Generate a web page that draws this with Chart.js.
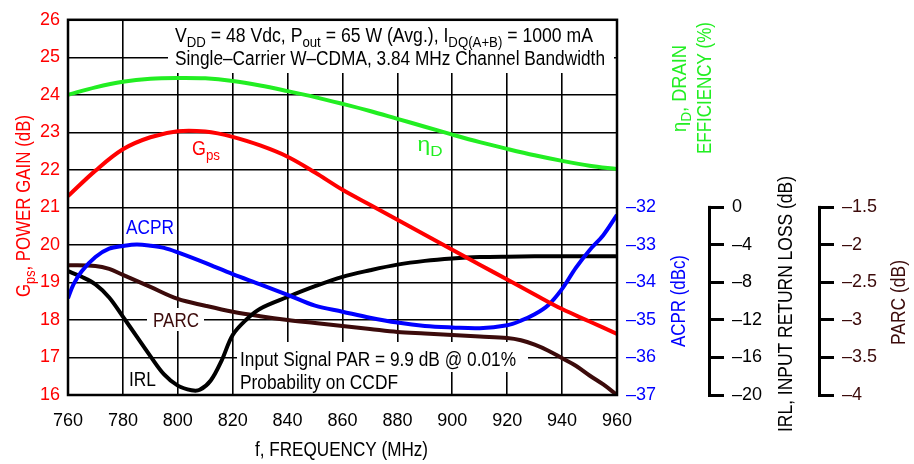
<!DOCTYPE html>
<html>
<head>
<meta charset="utf-8">
<script src="https://cdn.jsdelivr.net/npm/chart.js@4.4.1/dist/chart.umd.min.js"></script>
<style>
  html, body { margin: 0; padding: 0; background: #fff; }
  #wrap { width: 914px; height: 464px; }
</style>
</head>
<body>
<div id="wrap"><canvas id="rfChart" width="914" height="464"></canvas></div>
<script>
// Frequency sweep (MHz) shared by gain and efficiency
const freqs = [760, 770, 780, 790, 800, 810, 820, 830, 840, 850, 860, 870, 880, 890, 900, 910, 920, 930, 940, 950, 960];
const gainDb = [21.3, 21.98, 22.55, 22.87, 23.03, 23.02, 22.88, 22.65, 22.35, 21.93, 21.47, 21.07, 20.67, 20.27, 19.87, 19.47, 19.08, 18.68, 18.29, 17.96, 17.63];
const effPct = [35.0, 36.0, 36.75, 37.15, 37.25, 37.2, 36.85, 36.25, 35.5, 34.7, 33.8, 32.85, 31.8, 30.75, 29.7, 28.7, 27.8, 26.95, 26.2, 25.55, 25.1];

const acprFreq = [760, 762, 765, 770, 775, 780, 785, 790, 795, 800, 810, 820, 830, 840, 850, 860, 870, 880, 890, 900, 910, 920, 925, 930, 935, 940, 945, 950, 955, 960];
const acprDbc = [-34.42, -34.05, -33.7, -33.32, -33.1, -33.03, -32.99, -33.02, -33.08, -33.2, -33.48, -33.78, -34.05, -34.33, -34.62, -34.78, -34.94, -35.07, -35.16, -35.2, -35.22, -35.14, -35.02, -34.85, -34.6, -34.17, -33.61, -33.14, -32.74, -32.2];

const irlFreq = [760, 765, 770, 775, 780, 785, 790, 795, 800, 805, 808, 812, 816, 820, 825, 830, 840, 850, 860, 870, 880, 890, 900, 910, 920, 940, 960];
const irlDb = [-6.8, -7.4, -8.2, -9.6, -11.65, -13.75, -15.85, -17.8, -19.0, -19.5, -19.45, -18.45, -16.3, -13.6, -11.95, -10.8, -9.55, -8.4, -7.4, -6.7, -6.1, -5.7, -5.45, -5.3, -5.25, -5.2, -5.2];

const parcFreq = [760, 770, 775, 780, 790, 800, 810, 820, 830, 840, 850, 860, 870, 880, 890, 900, 910, 920, 925, 930, 935, 940, 945, 950, 955, 960];
const parcDb = [-2.27, -2.28, -2.32, -2.40, -2.56, -2.72, -2.81, -2.89, -2.95, -3.0, -3.04, -3.08, -3.12, -3.16, -3.18, -3.2, -3.22, -3.24, -3.27, -3.33, -3.41, -3.51, -3.61, -3.74, -3.86, -4.0];

// Visible tick ranges on the partial axes
const effTickMin = 25;
const acprTickMax = -32;
const irlTickMax = 0;
const parcTickMax = -1.5;

const RED = '#ff0000', GREEN = '#22ee22', BLUE = '#0000ff', BROWN = '#3c0b0b', BLACK = '#000000';
const FAMILY = "'Liberation Sans', Arial, sans-serif";

function pts(xs, ys) {
    return xs.map((x, i) => ({ x: x, y: ys[i] }));
}

function dash(v) {
    return (v < 0 ? '\u2013' : '') + Math.abs(v);
}

function series(label, xs, ys, color, axis) {
    return {
        label: label,
        data: pts(xs, ys),
        borderColor: color,
        borderWidth: 4,
        pointRadius: 0,
        tension: 0.35,
        yAxisID: axis,
        fill: false
    };
}

// Draw text made of normal and subscript parts, squeezed to a given width.
// (cx, cy) is the centre of the capital letters.
function richText(ctx, parts, cx, cy, width, size, color, rotated) {
    ctx.save();
    ctx.translate(cx, cy);
    if (rotated) ctx.rotate(-Math.PI / 2);
    let w = 0;
    parts.forEach(p => {
        ctx.font = (p[1] ? size * 0.75 : size) + 'px ' + FAMILY;
        w += ctx.measureText(p[0]).width;
    });
    ctx.scale(width / w, 1);
    ctx.fillStyle = color;
    ctx.textBaseline = 'alphabetic';
    ctx.textAlign = 'left';
    let x = -w / 2;
    const base = size * 0.36;
    parts.forEach(p => {
        ctx.font = (p[1] ? size * 0.75 : size) + 'px ' + FAMILY;
        ctx.fillText(p[0], x, base + (p[1] ? size * 0.28 : 0));
        x += ctx.measureText(p[0]).width;
    });
    ctx.restore();
}

function whiteBox(ctx, x1, y1, x2, y2) {
    ctx.save();
    ctx.fillStyle = '#ffffff';
    ctx.fillRect(x1, y1, x2 - x1, y2 - y1);
    ctx.restore();
}

const annotations = {
    id: 'annotations',
    beforeDatasetsDraw(chart) {
        const ctx = chart.ctx;
        // boxes behind text
        whiteBox(ctx, 168, 16, 614, 73);
        whiteBox(ctx, 147, 308, 204, 331);
        whiteBox(ctx, 237, 342, 528, 372);
        whiteBox(ctx, 237, 371, 402, 394);

        richText(ctx, [['V', 0], ['DD', 1], [' = 48 Vdc, P', 0], ['out', 1], [' = 65 W (Avg.), I', 0], ['DQ(A+B)', 1], [' = 1000 mA', 0]],
            384, 35, 418, 19.5, BLACK);
        richText(ctx, [['Single\u2013Carrier W\u2013CDMA, 3.84 MHz Channel Bandwidth', 0]], 390, 58, 430, 19.5, BLACK);

        richText(ctx, [['G', 0], ['ps', 1]], 206, 148, 28, 19.5, RED);
        richText(ctx, [['\u03b7', 0], ['D', 1]], 430, 144, 25, 19.5, GREEN);
        richText(ctx, [['ACPR', 0]], 150, 226.5, 48, 19.5, BLUE);
        richText(ctx, [['PARC', 0]], 176, 319.5, 46, 19.5, BROWN);
        richText(ctx, [['IRL', 0]], 142.5, 379, 27, 19.5, BLACK);
        richText(ctx, [['Input Signal PAR = 9.9 dB @ 0.01%', 0]], 378, 358.5, 276, 19.5, BLACK);
        richText(ctx, [['Probability on CCDF', 0]], 319, 381.5, 158, 19.5, BLACK);
    },
    afterDraw(chart) {
        const ctx = chart.ctx;
        const a = chart.chartArea;
        ctx.save();
        ctx.strokeStyle = BLACK;
        ctx.lineWidth = 2.5;
        ctx.strokeRect(a.left, a.top, a.right - a.left, a.bottom - a.top);

        // spines of the two detached axes
        ctx.lineWidth = 3;
        [['yIrl', irlTickMax], ['yParc', parcTickMax]].forEach(([id, top]) => {
            const s = chart.scales[id];
            const x = s.left + 1.5;
            ctx.beginPath();
            ctx.moveTo(x, s.getPixelForValue(top) - 1.5);
            ctx.lineTo(x, s.getPixelForValue(s.min) + 1.5);
            ctx.stroke();
        });
        ctx.restore();

        // axis titles
        richText(ctx, [['G', 0], ['ps', 1], [', POWER GAIN (dB)', 0]], 23, 206, 182, 19.5, RED, true);
        richText(ctx, [['f, FREQUENCY (MHz)', 0]], 341.5, 449, 173, 19.5, BLACK);
        richText(ctx, [['\u03b7', 0], ['D', 1], [', DRAIN', 0]], 678.5, 88.5, 87, 19.5, GREEN, true);
        richText(ctx, [['EFFICIENCY (%)', 0]], 703.5, 88, 132, 19.5, GREEN, true);
        richText(ctx, [['ACPR (dBc)', 0]], 678, 301, 92, 19.5, BLUE, true);
        richText(ctx, [['IRL, INPUT RETURN LOSS (dB)', 0]], 784.5, 304, 256, 19.5, BLACK, true);
        richText(ctx, [['PARC (dB)', 0]], 898, 302.5, 85, 19.5, BROWN, true);
    }
};

const tickFont = { family: FAMILY, size: 18 };

const ctx = document.getElementById('rfChart').getContext('2d');
new Chart(ctx, {
    type: 'line',
    data: {
        datasets: [
            series('Gps', freqs, gainDb, RED, 'y'),
            series('Drain Efficiency', freqs, effPct, GREEN, 'yEff'),
            series('ACPR', acprFreq, acprDbc, BLUE, 'yAcpr'),
            series('IRL', irlFreq, irlDb, BLACK, 'yIrl'),
            series('PARC', parcFreq, parcDb, BROWN, 'yParc')
        ]
    },
    options: {
        responsive: false,
        animation: false,
        devicePixelRatio: 1,
        layout: { padding: { top: 15, left: 0, right: 0, bottom: 0 } },
        plugins: { legend: { display: false }, tooltip: { enabled: false } },
        scales: {
            x: {
                type: 'linear',
                position: 'bottom',
                min: 760, max: 960,
                ticks: { stepSize: 20, color: BLACK, font: tickFont, padding: 15, maxRotation: 0 },
                grid: { color: BLACK, lineWidth: 1.6, drawTicks: false },
                border: { display: false },
                afterFit: s => { s.height = 69; }
            },
            y: {
                position: 'left',
                min: 16, max: 26,
                ticks: { stepSize: 1, color: RED, font: tickFont, padding: 8 },
                grid: { color: BLACK, lineWidth: 1.6, drawTicks: false },
                border: { display: false },
                afterFit: s => { s.width = 68; }
            },
            yEff: {
                position: 'right',
                weight: 1,
                min: -5, max: 45,
                ticks: { stepSize: 5, color: GREEN, font: tickFont, padding: 9 },
                afterBuildTicks: s => { s.ticks = s.ticks.filter(t => t.value >= effTickMin); },
                grid: { display: false, drawOnChartArea: false, drawTicks: false },
                border: { display: false },
                afterFit: s => { s.width = 0; }
            },
            yAcpr: {
                position: 'right',
                weight: 2,
                min: -37, max: -27,
                ticks: { stepSize: 1, color: BLUE, font: tickFont, padding: 9, callback: v => dash(v) },
                afterBuildTicks: s => { s.ticks = s.ticks.filter(t => t.value <= acprTickMax); },
                grid: { display: false, drawOnChartArea: false, drawTicks: false },
                border: { display: false },
                afterFit: s => { s.width = 91; }
            },
            yIrl: {
                position: 'right',
                weight: 3,
                min: -20, max: 20,
                ticks: { stepSize: 4, color: BLACK, font: tickFont, padding: 8, callback: v => dash(v) },
                afterBuildTicks: s => { s.ticks = s.ticks.filter(t => t.value <= irlTickMax); },
                grid: { display: true, drawOnChartArea: false, drawTicks: true, tickLength: 16, color: BLACK, lineWidth: 3 },
                border: { display: false },
                afterFit: s => { s.width = 110; }
            },
            yParc: {
                position: 'right',
                weight: 4,
                min: -4, max: 1,
                ticks: { stepSize: 0.5, color: BROWN, font: tickFont, padding: 8, callback: v => dash(v) },
                afterBuildTicks: s => { s.ticks = s.ticks.filter(t => t.value <= parcTickMax + 1e-9); },
                grid: { display: true, drawOnChartArea: false, drawTicks: true, tickLength: 16, color: BLACK, lineWidth: 3 },
                border: { display: false },
                afterFit: s => { s.width = 96; }
            }
        }
    },
    plugins: [annotations]
});
</script>
</body>
</html>
